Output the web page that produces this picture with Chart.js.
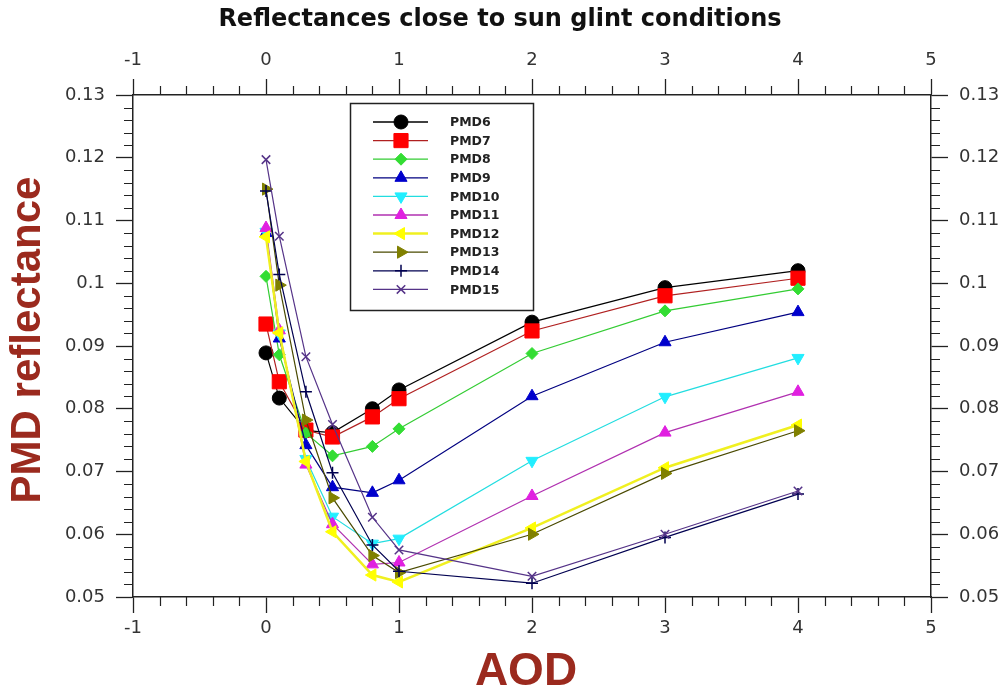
<!DOCTYPE html>
<html>
<head>
<meta charset="utf-8">
<script src="https://cdn.jsdelivr.net/npm/chart.js@4.4.1/dist/chart.umd.min.js"></script>
<style>
html,body{margin:0;padding:0;background:#fff;}
#wrap{width:1007px;height:694px;position:relative;}
</style>
</head>
<body>
<div id="wrap"><canvas id="c" width="1007" height="694"></canvas></div>
<script>
// ---- data ----
const aod = [0, 0.1, 0.3, 0.5, 0.8, 1, 2, 3, 4];
const pmd6  = [0.0889, 0.0817, 0.0765, 0.0762, 0.0800, 0.0830, 0.0938, 0.0993, 0.1020];
const pmd7  = [0.0935, 0.0843, 0.0766, 0.0755, 0.0787, 0.0816, 0.0924, 0.0980, 0.1008];
const pmd8  = [0.1011, 0.0886, 0.0761, 0.0725, 0.0740, 0.0768, 0.0888, 0.0956, 0.0991];
const pmd9  = [0.1080, 0.0912, 0.0742, 0.0675, 0.0666, 0.0686, 0.0820, 0.0906, 0.0954];
const pmd10 = [0.1082, 0.0920, 0.0720, 0.0628, 0.0585, 0.0593, 0.0717, 0.0819, 0.0881];
const pmd11 = [0.1088, 0.0925, 0.0711, 0.0616, 0.0552, 0.0555, 0.0661, 0.0762, 0.0827];
const pmd12 = [0.1074, 0.0921, 0.0716, 0.0604, 0.0535, 0.0524, 0.0610, 0.0706, 0.0774];
const pmd13 = [0.1150, 0.0997, 0.0782, 0.0658, 0.0566, 0.0539, 0.0600, 0.0697, 0.0765];
const pmd14 = [0.1147, 0.1014, 0.0827, 0.0698, 0.0583, 0.0541, 0.0522, 0.0595, 0.0664];
const pmd15 = [0.1197, 0.1075, 0.0883, 0.0775, 0.0627, 0.0575, 0.0533, 0.0600, 0.0669];
const seriesNames = ['PMD6','PMD7','PMD8','PMD9','PMD10','PMD11','PMD12','PMD13','PMD14','PMD15'];
const seriesValues = [pmd6,pmd7,pmd8,pmd9,pmd10,pmd11,pmd12,pmd13,pmd14,pmd15];
const xTickValues = [-1, 0, 1, 2, 3, 4, 5];
const yTickValues = [0.05, 0.06, 0.07, 0.08, 0.09, 0.1, 0.11, 0.12, 0.13];
const titleText = 'Reflectances close to sun glint conditions';
const xTitle = 'AOD';
const yTitle = 'PMD reflectance';

// ---- styles ----
const styles = [
  {line:'#000000', fill:'#000000', ps:'circle',   r:7,  rot:0,   bw:1},
  {line:'#b02020', fill:'#ff0000', ps:'rect',     r:10, rot:0,   bw:1},
  {line:'#33cc33', fill:'#33dd33', ps:'rectRot',  r:6,  rot:0,   bw:1},
  {line:'#000080', fill:'#0000cc', ps:'triangle', r:7,  rot:0,   bw:1},
  {line:'#22dde0', fill:'#22eeff', ps:'triangle', r:7,  rot:180, bw:1},
  {line:'#b030b0', fill:'#e020e0', ps:'triangle', r:7,  rot:0,   bw:1},
  {line:'#f0f020', fill:'#ffff00', ps:'triangle', r:7,  rot:-90, bw:1, lw:2.5},
  {line:'#4a4a00', fill:'#808000', ps:'triangle', r:7,  rot:90,  bw:1},
  {line:'#000050', fill:'#000050', ps:'cross',    r:6,  rot:0,   bw:1.5},
  {line:'#553388', fill:'#553388', ps:'crossRot', r:6,  rot:0,   bw:1.5}
];

const datasets = seriesNames.map((n,i)=>({
  label:n,
  data: aod.map((x,k)=>({x:x, y:seriesValues[i][k]})),
  borderColor: styles[i].line,
  backgroundColor: styles[i].fill,
  pointBackgroundColor: styles[i].fill,
  pointBorderColor: styles[i].fill,
  pointStyle: styles[i].ps,
  pointRadius: styles[i].r,
  pointRotation: styles[i].rot,
  pointBorderWidth: styles[i].bw,
  borderWidth: styles[i].lw || 1.2,
  tension: 0,
  fill: false,
  order: 20 - i
}));

const fmt = v => String(Number(v.toFixed(3)));
const tickFont = {family:'"DejaVu Sans", Verdana, sans-serif', size:18};
const tickColor = '#333';
const axisColor = '#222';

function xAxis(pos, h){
  return {
    type:'linear', position:pos, min:-1, max:5,
    afterBuildTicks: s => { s.ticks = xTickValues.map(v=>({value:v})); },
    ticks:{font:tickFont, color:tickColor, padding:pos==='top'?8:5, callback:v=>fmt(v), maxRotation:0, autoSkip:false},
    grid:{drawOnChartArea:false, drawTicks:true, tickLength:16, color:axisColor, tickWidth:1.3},
    border:{display:true, color:axisColor, width:1.5},
    afterFit: s => { s.height = h; }
  };
}
function yAxis(pos, w){
  return {
    type:'linear', position:pos, min:0.05, max:0.13,
    afterBuildTicks: s => { s.ticks = yTickValues.map(v=>({value:v})); },
    ticks:{font:tickFont, color:tickColor, padding:11, callback:v=>fmt(v), autoSkip:false},
    grid:{drawOnChartArea:false, drawTicks:true, tickLength:17, color:axisColor, tickWidth:1.3},
    border:{display:true, color:axisColor, width:1.5},
    afterFit: s => { s.width = w; }
  };
}

const decor = {
  id:'decor',
  afterDraw(chart){
    const ctx = chart.ctx;
    const a = chart.chartArea;
    const sx = chart.scales.x, sy = chart.scales.y;
    ctx.save();
    // minor ticks
    ctx.strokeStyle = axisColor; ctx.lineWidth = 1.2;
    ctx.beginPath();
    for(let k=0;k<=30;k++){
      if(k%5===0) continue;
      const v = -1 + k*0.2;
      const px = Math.round(sx.getPixelForValue(v))+0.5;
      ctx.moveTo(px, a.bottom); ctx.lineTo(px, a.bottom+9);
      ctx.moveTo(px, a.top); ctx.lineTo(px, a.top-9);
    }
    for(let k=0;k<=40;k++){
      if(k%5===0) continue;
      const v = 0.05 + k*0.002;
      const py = Math.round(sy.getPixelForValue(v))+0.5;
      ctx.moveTo(a.left, py); ctx.lineTo(a.left-9, py);
      ctx.moveTo(a.right, py); ctx.lineTo(a.right+9, py);
    }
    ctx.stroke();

    // title
    ctx.fillStyle = '#111';
    ctx.font = 'bold 24px "DejaVu Sans", Verdana, sans-serif';
    ctx.textAlign = 'center'; ctx.textBaseline = 'middle';
    ctx.fillText(titleText, 500, 20);

    // axis titles
    ctx.fillStyle = '#9b2a1e';
    ctx.font = 'bold 46px "Liberation Sans", Arial, sans-serif';
    ctx.fillText(xTitle, 526, 672);
    ctx.save();
    ctx.translate(28, 340);
    ctx.rotate(-Math.PI/2);
    ctx.font = 'bold 42px "Liberation Sans", Arial, sans-serif';
    ctx.fillText(yTitle, 0, 0);
    ctx.restore();

    // legend
    const bx = 350, by = 103, bw = 183, bh = 207;
    ctx.fillStyle = '#fff';
    ctx.fillRect(bx, by, bw, bh);
    ctx.strokeStyle = '#222'; ctx.lineWidth = 1.5;
    ctx.strokeRect(bx+0.5, by+0.5, bw, bh);
    const step = 18.6;
    ctx.font = 'bold 12.5px "DejaVu Sans", Verdana, sans-serif';
    ctx.textAlign = 'left'; ctx.textBaseline = 'middle';
    seriesNames.forEach((n,i)=>{
      const y = by + 19 + i*step;
      const st = styles[i];
      ctx.strokeStyle = st.line; ctx.lineWidth = st.lw || 1.3;
      ctx.beginPath(); ctx.moveTo(373, y); ctx.lineTo(428, y); ctx.stroke();
      ctx.fillStyle = st.fill; ctx.strokeStyle = st.fill; ctx.lineWidth = st.bw;
      Chart.helpers.drawPoint(ctx, {pointStyle:st.ps, radius:st.r, rotation:st.rot, borderWidth:st.bw}, 401, y);
      ctx.fillStyle = '#222';
      ctx.fillText(n, 450, y+1);
    });
    ctx.restore();
  }
};

new Chart(document.getElementById('c'), {
  type:'line',
  data:{datasets},
  options:{
    responsive:false,
    animation:false,
    layout:{padding:0},
    plugins:{legend:{display:false}, tooltip:{enabled:false}, title:{display:false}},
    scales:{
      x: xAxis('bottom', 97),
      x2: xAxis('top', 95),
      y: yAxis('left', 133),
      y2: yAxis('right', 76)
    },
    elements:{line:{tension:0}}
  },
  plugins:[decor]
});
</script>
</body>
</html>
